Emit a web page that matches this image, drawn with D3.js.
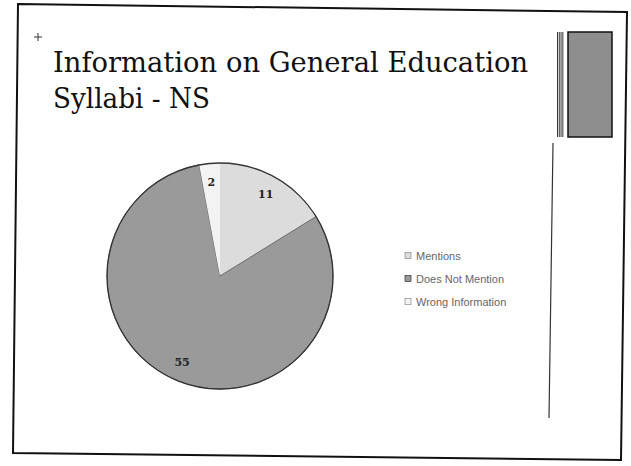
<!DOCTYPE html>
<html>
<head>
<meta charset="utf-8">
<script src="https://cdn.jsdelivr.net/npm/d3@7"></script>
<style>
  html, body { margin: 0; padding: 0; background: #fff; }
  svg { display: block; }
</style>
</head>
<body>
<svg id="chart" width="631" height="466"></svg>
<script>
var titleLines = ["Information on General Education", "Syllabi - NS"];
var categories = ["Mentions", "Does Not Mention", "Wrong Information"];
var values = [11, 55, 2];
var sliceColors = ["#dcdcdc", "#9a9a9a", "#f3f3f3"];

var svg = d3.select("#chart");

// slide frame, scanned slightly crooked
svg.append("path")
  .attr("d", "M18,4 L627,12 L621,460 L13,453 Z")
  .attr("fill", "none")
  .attr("stroke", "#111")
  .attr("stroke-width", 2);

// little move cursor near the title
var cur = svg.append("g").attr("transform", "translate(38,37)")
  .attr("stroke", "#333").attr("stroke-width", 1);
cur.append("line").attr("x1", 0).attr("y1", -4).attr("x2", 0).attr("y2", 4);
cur.append("line").attr("x1", -4).attr("y1", 0).attr("x2", 4).attr("y2", 0);

// title
svg.selectAll("text.title")
  .data(titleLines)
  .enter().append("text")
  .attr("class", "title")
  .attr("x", 53)
  .attr("y", function(d, i) { return 72 + i * 36; })
  .attr("textLength", function(d, i) { return i == 0 ? 475 : 157; })
  .attr("lengthAdjust", "spacingAndGlyphs")
  .style("font-family", "'DejaVu Serif', serif")
  .style("font-size", "28px")
  .style("fill", "#111")
  .text(function(d) { return d; });

// decoration top right
var stripes = svg.append("g");
for (var i = 0; i < 4; i++) {
  stripes.append("rect")
    .attr("x", 557 + i * 1.8).attr("y", 32)
    .attr("width", 0.9).attr("height", 105)
    .attr("fill", "#222");
}
svg.append("rect")
  .attr("x", 568).attr("y", 32)
  .attr("width", 44).attr("height", 105)
  .attr("fill", "#8e8e8e")
  .attr("stroke", "#111")
  .attr("stroke-width", 1.5);

svg.append("line")
  .attr("x1", 553).attr("y1", 143)
  .attr("x2", 549).attr("y2", 418)
  .attr("stroke", "#333")
  .attr("stroke-width", 1.2);

// pie
var cx = 220, cy = 276, r = 113;
var pie = d3.pie().sort(null).value(function(d) { return d; });
var arcs = pie(values);
var arc = d3.arc().innerRadius(0).outerRadius(r);
var labelArc = d3.arc().innerRadius(94).outerRadius(94);

var g = svg.append("g").attr("transform", "translate(" + cx + "," + cy + ")");

g.selectAll("path.slice")
  .data(arcs)
  .enter().append("path")
  .attr("class", "slice")
  .attr("d", arc)
  .attr("fill", function(d, i) { return sliceColors[i]; })
  .attr("stroke", function(d, i) { return i == 1 ? "#555" : "none"; })
  .attr("stroke-width", 0.8);

g.append("circle")
  .attr("r", r)
  .attr("fill", "none")
  .attr("stroke", "#333")
  .attr("stroke-width", 1.3);

g.selectAll("text.val")
  .data(arcs)
  .enter().append("text")
  .attr("class", "val")
  .attr("transform", function(d) { return "translate(" + labelArc.centroid(d) + ")"; })
  .attr("text-anchor", "middle")
  .attr("dy", "0.35em")
  .style("font-family", "'DejaVu Serif', serif")
  .style("font-weight", "bold")
  .style("font-size", "11px")
  .style("fill", "#222")
  .text(function(d) { return d.data; });

// legend
var legend = svg.append("g").attr("transform", "translate(405,256)");
var rows = legend.selectAll("g.row")
  .data(categories)
  .enter().append("g")
  .attr("class", "row")
  .attr("transform", function(d, i) { return "translate(0," + i * 23 + ")"; });

rows.append("rect")
  .attr("x", 0).attr("y", -3.5)
  .attr("width", 6).attr("height", 6)
  .attr("fill", function(d, i) { return sliceColors[i]; })
  .attr("stroke", function(d, i) { return i == 1 ? "#333" : "#888"; })
  .attr("stroke-width", 0.7);

rows.append("text")
  .attr("x", 11)
  .attr("dy", "0.35em")
  .style("font-family", "'Liberation Sans', sans-serif")
  .style("font-size", "11px")
  .style("fill", "#666")
  .text(function(d) { return d; });
</script>
</body>
</html>
